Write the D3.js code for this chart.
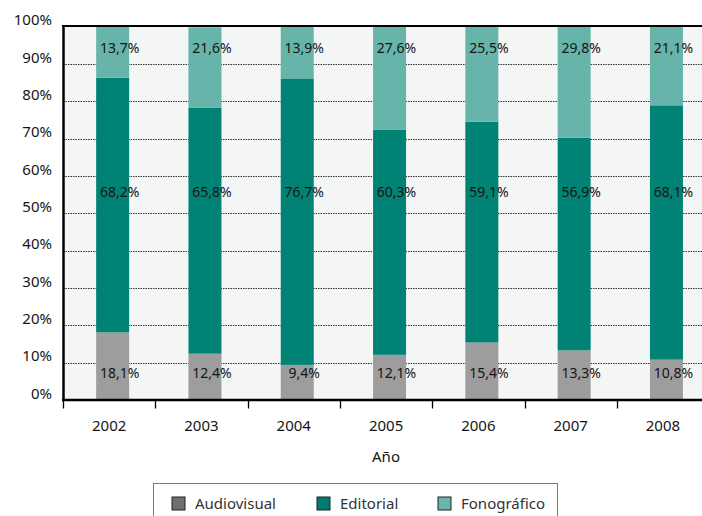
<!DOCTYPE html>
<html>
<head>
<meta charset="utf-8">
<script src="https://cdn.jsdelivr.net/npm/d3@7"></script>
<style>
  body { margin: 0; background: #fff; }
  svg text { font-family: "Noto Sans", "Open Sans", sans-serif; fill: #151515; }
</style>
</head>
<body>
<div id="chart"></div>
<script>
// stacked shares per year, in percent

const years = ['2002', '2003', '2004', '2005', '2006', '2007', '2008'];
const audiovisual = [18.1, 12.4, 9.4, 12.1, 15.4, 13.3, 10.8];
const editorial = [68.2, 65.8, 76.7, 60.3, 59.1, 56.9, 68.1];
const fonografico = [13.7, 21.6, 13.9, 27.6, 25.5, 29.8, 21.1];
const seriesNames = ['Audiovisual', 'Editorial', 'Fonográfico'];
const yTicks = [0, 10, 20, 30, 40, 50, 60, 70, 80, 90, 100];

const WIDTH = 702;
const HEIGHT = 516;
const colors = { Audiovisual: '#9d9d9e', Editorial: '#008374', 'Fonográfico': '#67b4ab' };
const swatchColors = { Audiovisual: '#6f6f71', Editorial: '#007b6d', 'Fonográfico': '#6ab6ad' };
// height (in % of the y scale) where each series label sits
const labelLevel = { Audiovisual: 5.9, Editorial: 54.4, 'Fonográfico': 93 };

const fmt = v => v.toFixed(1).replace('.', ',') + '%';

function createChart() {
  const rows = years.map((yr, i) => ({
    year: yr,
    Audiovisual: audiovisual[i],
    Editorial: editorial[i],
    'Fonográfico': fonografico[i],
  }));

  const left = 63, top = 26.5, bottom = 400;
  const band = 92.3;

  const x = d3.scaleBand().domain(years).range([left, left + band * years.length]);
  const y = d3.scaleLinear().domain([0, 100]).range([bottom, top]);
  const barW = 33;
  const barX = d => x(d) + (x.bandwidth() - barW) / 2 + 3.5;

  const svg = d3.select('#chart').append('svg')
    .attr('width', WIDTH)
    .attr('height', HEIGHT);

  // plot background
  svg.append('rect')
    .attr('x', left).attr('y', top)
    .attr('width', WIDTH - left).attr('height', bottom - top)
    .attr('fill', '#f4f5f5');

  // dotted grid
  svg.append('g')
    .selectAll('line')
    .data(yTicks.filter(t => t > 0 && t < 100))
    .enter()
    .append('line')
    .attr('x1', left).attr('x2', WIDTH)
    .attr('y1', d => Math.round(y(d)) + 0.5).attr('y2', d => Math.round(y(d)) + 0.5)
    .attr('stroke', '#333')
    .attr('stroke-width', 1)
    .attr('stroke-dasharray', '1.5,1');

  const stacked = d3.stack().keys(seriesNames)(rows);

  svg.append('g')
    .selectAll('g')
    .data(stacked)
    .enter()
    .append('g')
    .attr('fill', s => colors[s.key])
    .selectAll('rect')
    .data(s => s)
    .enter()
    .append('rect')
    .attr('x', d => barX(d.data.year))
    .attr('width', barW)
    .attr('y', d => y(Math.min(d[1], 100)))
    .attr('height', d => y(d[0]) - y(Math.min(d[1], 100)));

  // value labels
  svg.append('g')
    .selectAll('g')
    .data(stacked)
    .enter()
    .append('g')
    .each(function (s) {
      d3.select(this).selectAll('text')
        .data(s)
        .enter()
        .append('text')
        .attr('x', d => barX(d.data.year) + barW / 2 + 7)
        .attr('y', y(labelLevel[s.key]))
        .attr('text-anchor', 'middle')
        .style('font-size', '14px')
        .text(d => fmt(d.data[s.key]));
    });

  // top border
  svg.append('line')
    .attr('x1', left - 1).attr('x2', WIDTH)
    .attr('y1', top - 0.5).attr('y2', top - 0.5)
    .attr('stroke', '#000').attr('stroke-width', 2.2);

  // y axis
  const yAxis = svg.append('g')
    .attr('transform', `translate(${left},0)`)
    .call(d3.axisLeft(y).tickValues(yTicks).tickSize(0).tickPadding(11).tickFormat(d => d + '%'));
  yAxis.select('.domain').attr('stroke', '#000').attr('stroke-width', 2.5);
  yAxis.selectAll('text').style('font-size', '15px').attr('dy', '-0.12em');

  // x axis
  const xAxis = svg.append('g')
    .attr('transform', `translate(0,${bottom})`)
    .call(d3.axisBottom(x).tickSize(0).tickPadding(20));
  xAxis.select('.domain').remove();
  xAxis.selectAll('text').style('font-size', '15px');

  svg.append('line')
    .attr('x1', left - 1).attr('x2', WIDTH)
    .attr('y1', bottom).attr('y2', bottom)
    .attr('stroke', '#000').attr('stroke-width', 2.5);

  svg.append('g')
    .selectAll('line')
    .data(years)
    .enter()
    .append('line')
    .attr('x1', d => Math.round(x(d)) + 0.5).attr('x2', d => Math.round(x(d)) + 0.5)
    .attr('y1', bottom).attr('y2', bottom + 8.5)
    .attr('stroke', '#000').attr('stroke-width', 1.3);

  svg.append('text')
    .attr('x', 386).attr('y', 462)
    .attr('text-anchor', 'middle')
    .style('font-size', '15px')
    .text('Año');

  // legend
  const legend = svg.append('g');
  legend.append('rect')
    .attr('x', 153.5).attr('y', 483.5)
    .attr('width', 404).attr('height', 40)
    .attr('fill', '#fff')
    .attr('stroke', '#777').attr('stroke-width', 1);

  const legendX = [172, 317, 438];
  const items = legend.selectAll('g')
    .data(seriesNames)
    .enter()
    .append('g')
    .attr('transform', (d, i) => `translate(${legendX[i]},497)`);
  items.append('rect')
    .attr('width', 13).attr('height', 13)
    .attr('fill', d => swatchColors[d])
    .attr('stroke', '#222').attr('stroke-width', 1);
  items.append('text')
    .attr('x', 23).attr('y', 12)
    .style('font-size', '15px')
    .style('fill', '#333')
    .text(d => d);
}

document.addEventListener('DOMContentLoaded', createChart);
</script>
</body>
</html>
